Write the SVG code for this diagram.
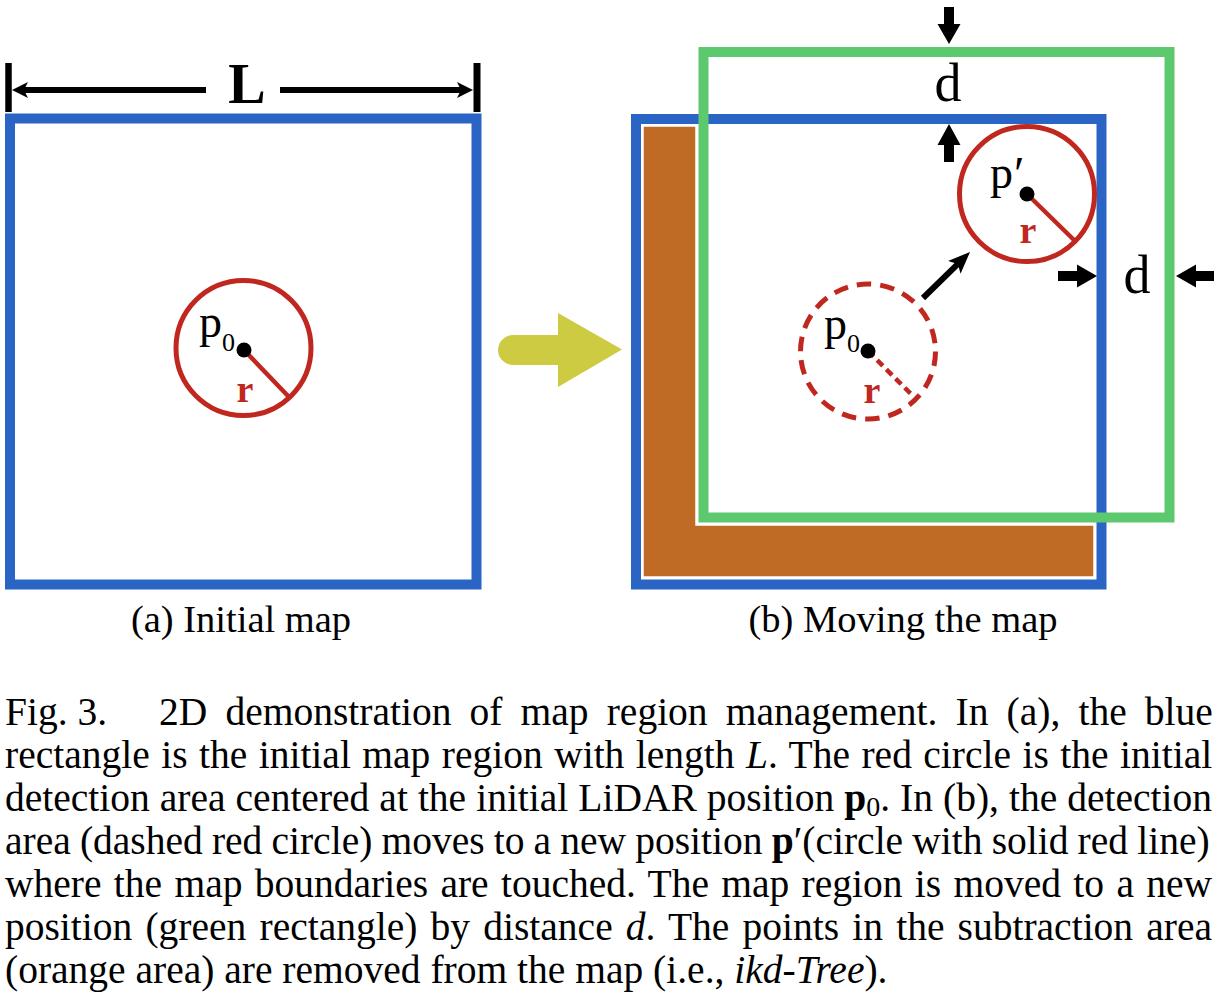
<svg xmlns="http://www.w3.org/2000/svg" width="1222" height="998" viewBox="0 0 1222 998">
<defs>
<style>
.blue{fill:none;stroke:#2A65C5;stroke-width:10}
.green{fill:none;stroke:#5CC96F;stroke-width:10}
.rc{fill:none;stroke:#C0281F;stroke-width:5}
.rl{stroke:#C0281F;stroke-width:4.5}
.dash{stroke-dasharray:14.5 9.06}
.dot{fill:#000}
.serif{font-family:"Liberation Serif","Times New Roman",serif;fill:#000}
.lp{font-size:46px}
.sub{font-size:26px}
.rlab{font-size:38px;font-weight:bold;fill:#C0281F;text-anchor:middle}
.dlab{font-size:54px;text-anchor:middle}
.cap{font-size:38.5px}
.para{font-size:39.5px}
.blk{fill:#000}
</style>
<marker id="sharpHead" viewBox="0 -10 24 20" refX="8" refY="0" markerWidth="24" markerHeight="20" markerUnits="userSpaceOnUse" orient="auto">
<path d="M0,-9 L22,0 L0,9 L5,0 Z" fill="#000"/>
</marker>
</defs>
<rect width="1222" height="998" fill="#fff"/>

<g id="panel-a">
<g id="map-initial">
<rect class="blue" x="10" y="118.5" width="466.5" height="466"/>
</g>
<g id="dimension-L">
<line x1="8.5" y1="63" x2="8.5" y2="112" stroke="#000" stroke-width="6.5"/>
<line x1="477" y1="63" x2="477" y2="112" stroke="#000" stroke-width="7"/>
<line x1="22" y1="90" x2="206" y2="90" stroke="#000" stroke-width="6"/>
<line x1="280" y1="90" x2="464" y2="90" stroke="#000" stroke-width="6"/>
<path class="blk" d="M12,90 L28,82 L24,90 L28,98 Z"/>
<path class="blk" d="M473,90 L457,82 L461,90 L457,98 Z"/>
<text class="serif" x="247" y="103" font-size="56" font-weight="bold" text-anchor="middle">L</text>
</g>
<g id="circle-p0">
<circle class="rc" cx="243.5" cy="348" r="67.5"/>
<line class="rl" x1="244" y1="350" x2="289" y2="397"/>
<circle class="dot" cx="244" cy="350" r="7.5"/>
<text class="serif lp" x="199" y="337">p</text>
<text class="serif sub" x="222" y="351">0</text>
<text class="serif rlab" x="245" y="402">r</text>
</g>
<text class="serif cap" x="241" y="632" text-anchor="middle">(a) Initial map</text>
</g>

<g id="arrow-move">
<path d="M513,335 H558 V313 L622,349.5 L558,387 V365 H513 A15,15 0 0 1 513,335 Z" fill="#CDCB42"/>
</g>

<g id="panel-b">
<g id="subtraction-area">
<polygon points="643,126 696,126 696,525 1094,525 1094,577 643,577" fill="#BF6B26" stroke="#fff" stroke-width="1.5"/>
</g>
<g id="map-old">
<rect class="blue" x="636" y="119" width="465.5" height="465.5"/>
</g>
<g id="map-new">
<rect class="green" x="703.5" y="52" width="466" height="465.5"/>
</g>
<g id="circle-p0-dashed">
<circle class="rc dash" cx="868" cy="351.5" r="67.5"/>
<line class="rl" x1="868" y1="351" x2="912" y2="395" stroke-dasharray="8 5"/>
<circle class="dot" cx="868" cy="351" r="7.5"/>
<text class="serif lp" x="824" y="339">p</text>
<text class="serif sub" x="847" y="352">0</text>
<text class="serif rlab" x="872" y="403">r</text>
</g>
<g id="circle-p-prime">
<circle class="rc" cx="1027" cy="194" r="67.5"/>
<line class="rl" x1="1027" y1="194" x2="1074" y2="240"/>
<circle class="dot" cx="1027" cy="194" r="7.5"/>
<text class="serif lp" x="990" y="188">p</text>
<text class="serif" x="1014" y="190" font-size="48">′</text>
<text class="serif rlab" x="1028" y="243">r</text>
</g>
<g id="labels-d">
<text class="serif dlab" x="948" y="101">d</text>
<text class="serif dlab" x="1137" y="293">d</text>
</g>
<text class="serif cap" x="903" y="632" text-anchor="middle">(b) Moving the map</text>
</g>

<g id="connectors">
<line x1="923" y1="298" x2="960" y2="261.8" stroke="#000" stroke-width="6" marker-end="url(#sharpHead)"/>
<polygon class="blk" points="944,7 954,7 954,24 960.5,24 949,44 937.5,24 944,24"/>
<polygon class="blk" points="949,124 960.5,145 954,145 954,162 944,162 944,145 937.5,145"/>
<polygon class="blk" points="1058,271 1077,271 1077,264.5 1097,276 1077,287.5 1077,281 1058,281"/>
<polygon class="blk" points="1214,271 1196,271 1196,264.5 1176,276 1196,287.5 1196,281 1214,281"/>
</g>

<g id="caption" class="serif para">
<text x="5" y="725">Fig. 3.</text>
<text x="159" y="725" word-spacing="8.26">2D demonstration of map region management. In (a), the blue</text>
<text x="5" y="768" word-spacing="1.58">rectangle is the initial map region with length <tspan font-style="italic">L</tspan>. The red circle is the initial</text>
<text x="5" y="811" word-spacing="0.15">detection area centered at the initial LiDAR position <tspan font-weight="bold">p</tspan><tspan font-size="28" dy="5">0</tspan><tspan dy="-5">. In (b), the detection</tspan></text>
<text x="5" y="854" word-spacing="-0.73">area (dashed red circle) moves to a new position <tspan font-weight="bold">p</tspan>′(circle with solid red line)</text>
<text x="5" y="897" word-spacing="2.46">where the map boundaries are touched. The map region is moved to a new</text>
<text x="5" y="940" word-spacing="3.3">position (green rectangle) by distance <tspan font-style="italic">d</tspan>. The points in the subtraction area</text>
<text x="5" y="983">(orange area) are removed from the map (i.e., <tspan font-style="italic">ikd-Tree</tspan>).</text>
</g>
</svg>
